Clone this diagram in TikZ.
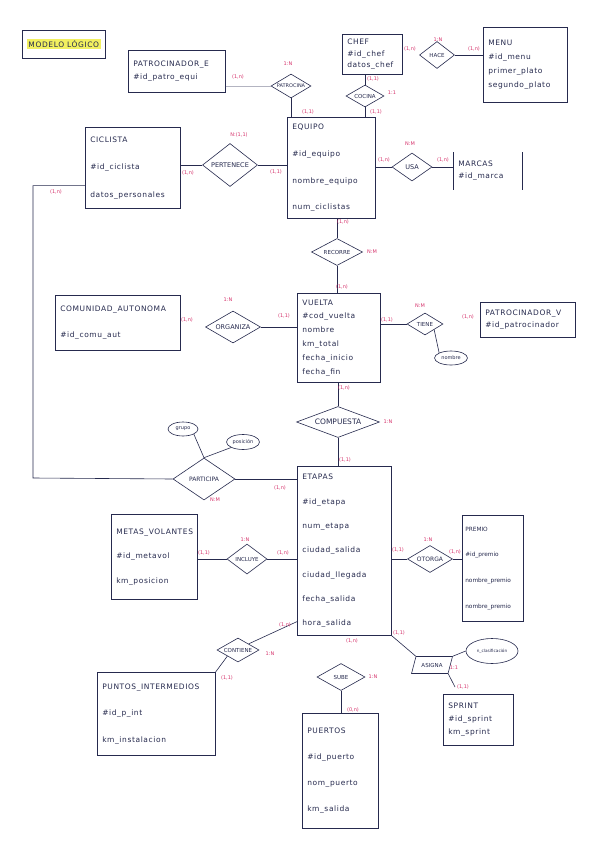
\documentclass[tikz,border=0pt]{standalone}
\usepackage{fontspec}
\setmainfont{DejaVu Sans}
\newfontfamily\mano[LetterSpace=8]{DejaVu Sans}
\usetikzlibrary{arrows,shapes.geometric}
\definecolor{tinta}{RGB}{38,42,78}
\definecolor{rojo}{RGB}{214,51,108}
\definecolor{resalte}{RGB}{242,240,96}
\tikzset{
	entidad/.style={draw=tinta, line width=0.6pt, rectangle, anchor=north west, align=left, inner xsep=5pt, inner ysep=0pt, text=tinta, font=\mano\fontsize{7.5}{9}\selectfont},
	relacion/.style={draw=tinta, line width=0.6pt, diamond, aspect=2, inner sep=0pt, text=tinta, font=\fontsize{5.5}{6}\selectfont},
	atributo/.style={draw=tinta, line width=0.6pt, ellipse, inner sep=0pt, text=tinta, font=\fontsize{5}{6}\selectfont},
	card/.style={text=rojo, inner sep=0pt, font=\fontsize{5}{6}\selectfont},
	enlace/.style={draw=tinta, line width=0.6pt},
	tenue/.style={draw=tinta!35, line width=0.5pt}
}
\begin{document}
\begin{tikzpicture}[x=1pt,y=-1pt]
		\fill[white] (0,0) rectangle (600,848);
		\useasboundingbox (0,0) rectangle (600,848);
		\setlength{\fboxsep}{1.5pt}
		\node[draw=tinta, line width=0.6pt, anchor=north west, minimum width=83pt, minimum height=28pt, inner sep=0pt, text=tinta, font=\mano\fontsize{7.5}{9}\selectfont] (titulo) at (22,30) {\colorbox{resalte}{MODELO LÓGICO}};
		\node[entidad, text width=87pt, minimum height=42pt] (patroE) at (128,50) {PATROCINADOR\_E\\[4pt] \#id\_patro\_equi};
		\node[entidad, text width=50pt, minimum height=40pt] (chef) at (342,34) {CHEF\\[2.5pt] \#id\_chef\\[2.5pt] datos\_chef};
		\node[entidad, text width=74pt, minimum height=75pt] (menu) at (483,27) {MENU\\[5pt] \#id\_menu\\[5pt] primer\_plato\\[5pt] segundo\_plato};
		\node[entidad, text width=85pt, minimum height=81pt] (ciclista) at (85,127) {CICLISTA\\[18.5pt] \#id\_ciclista\\[18.5pt] datos\_personales};
		\node[entidad, text width=78pt, minimum height=101pt] (equipo) at (287,117) {EQUIPO\\[17.7pt] \#id\_equipo\\[17.7pt] nombre\_equipo\\[17.7pt] num\_ciclistas};
		\node[entidad, draw=none, text width=59pt, minimum height=37pt] (marcas) at (453,152) {MARCAS\\[3pt] \#id\_marca};
		\node[entidad, text width=115pt, minimum height=55pt] (comunidad) at (55,295) {COMUNIDAD\_AUTONOMA\\[17pt] \#id\_comu\_aut};
		\node[entidad, text width=73pt, minimum height=89pt] (vuelta) at (297,293) {VUELTA\\[4.8pt] \#cod\_vuelta\\[4.8pt] nombre\\[4.8pt] km\_total\\[4.8pt] fecha\_inicio\\[4.8pt] fecha\_fin};
		\node[entidad, text width=85pt, minimum height=35pt] (patroV) at (480,302) {PATROCINADOR\_V\\[3pt] \#id\_patrocinador};
		\node[entidad, text width=84pt, minimum height=169pt] (etapas) at (297,466) {ETAPAS\\[15.3pt] \#id\_etapa\\[15.3pt] num\_etapa\\[15.3pt] ciudad\_salida\\[15.3pt] ciudad\_llegada\\[15.3pt] fecha\_salida\\[15.3pt] hora\_salida};
		\node[entidad, text width=76pt, minimum height=85pt] (metas) at (111,514) {METAS\_VOLANTES\\[15.5pt] \#id\_metavol\\[15.5pt] km\_posicion};
		\node[entidad, text width=55pt, minimum height=106pt, inner xsep=3pt, font=\fontsize{5.8}{7}\selectfont] (premio) at (462,515) {PREMIO\\[18.7pt] \#id\_premio\\[18.7pt] nombre\_premio\\[18.7pt] nombre\_premio};
		\node[entidad, text width=60pt, minimum height=51pt] (sprint) at (443,694) {SPRINT\\[4pt] \#id\_sprint\\[4pt] km\_sprint};
		\node[entidad, text width=108pt, minimum height=83pt] (puntos) at (97,672) {PUNTOS\_INTERMEDIOS\\[17.5pt] \#id\_p\_int\\[17.5pt] km\_instalacion};
		\node[entidad, text width=66pt, minimum height=115pt] (puertos) at (302,713) {PUERTOS\\[17pt] \#id\_puerto\\[17pt] nom\_puerto\\[17pt] km\_salida};
		\draw[enlace] (marcas.north west) -- (marcas.south west) (marcas.north east) -- (marcas.south east);
		\node[relacion, minimum width=40pt, minimum height=24pt, font=\fontsize{5}{6}\selectfont] (patrocina) at (291,86) {PATROCINA};
		\node[relacion, minimum width=38pt, minimum height=22pt] (cocina) at (365,96) {COCINA};
		\node[relacion, minimum width=35pt, minimum height=27pt] (hace) at (437,55) {HACE};
		\node[relacion, minimum width=55pt, minimum height=43pt, font=\fontsize{6.5}{7}\selectfont] (pertenece) at (230,165) {PERTENECE};
		\node[relacion, minimum width=40pt, minimum height=28pt, font=\fontsize{6.5}{7}\selectfont] (usa) at (412,167) {USA};
		\node[relacion, minimum width=51pt, minimum height=27pt] (recorre) at (337,252) {RECORRE};
		\node[relacion, minimum width=55pt, minimum height=32pt, font=\fontsize{6.5}{7}\selectfont] (organiza) at (233,327) {ORGANIZA};
		\node[relacion, minimum width=36pt, minimum height=22pt] (tiene) at (425,324) {TIENE};
		\node[relacion, minimum width=83pt, minimum height=31pt, font=\fontsize{7.5}{8}\selectfont] (compuesta) at (338,422) {COMPUESTA};
		\node[relacion, minimum width=62pt, minimum height=42pt, font=\fontsize{6}{7}\selectfont] (participa) at (204,479) {PARTICIPA};
		\node[relacion, minimum width=40pt, minimum height=30pt] (incluye) at (247,559) {INCLUYE};
		\node[relacion, minimum width=45pt, minimum height=27pt, font=\fontsize{6}{7}\selectfont] (otorga) at (430,559) {OTORGA};
		\node[relacion, minimum width=42pt, minimum height=24pt] (contiene) at (238,650) {CONTIENE};
		\node[relacion, minimum width=48pt, minimum height=27pt] (sube) at (341,677) {SUBE};
		\node[relacion, trapezium, trapezium left angle=55, trapezium right angle=125, trapezium stretches=true, minimum width=41pt, minimum height=17pt] (asigna) at (432,665) {ASIGNA};
		\node[atributo, minimum width=30pt, minimum height=14pt] (grupo) at (183,429) {grupo};
		\node[atributo, minimum width=33pt, minimum height=15pt] (posicion) at (243,442) {posición};
		\node[atributo, minimum width=33pt, minimum height=14pt] (nombrev) at (451,358) {nombre};
		\node[atributo, minimum width=52pt, minimum height=25pt, font=\fontsize{4.2}{5}\selectfont] (clasif) at (492,651) {n\_clasificación};
		\coordinate (esquina) at (33,478);
		\coordinate (finsprint) at (455,687);
		\draw[tenue] (patroE.east |- patrocina.west) -- (patrocina.west);
		\draw[enlace] (patrocina.south) -- (patrocina.south |- equipo.north);
		\draw[enlace] (cocina.north |- chef.south) -- (cocina.north);
		\draw[enlace] (cocina.south) -- (cocina.south |- equipo.north);
		\draw[enlace] (hace.east) -- (hace.east -| menu.west);
		\draw[enlace] (ciclista.east |- pertenece.west) -- (pertenece.west);
		\draw[enlace] (pertenece.east) -- (pertenece.east -| equipo.west);
		\draw[enlace] ([yshift=23pt]ciclista.south west) -| (esquina) -- (participa.west);
		\draw[enlace] (equipo.east |- usa.west) -- (usa.west);
		\draw[enlace] (usa.east) -- (usa.east -| marcas.west);
		\draw[enlace] (recorre.north |- equipo.south) -- (recorre.north);
		\draw[enlace] (recorre.south) -- (recorre.south |- vuelta.north);
		\draw[enlace] (organiza.east) -- (organiza.east -| vuelta.west);
		\draw[enlace] (vuelta.east |- tiene.west) -- (tiene.west);
		\draw[enlace] (tiene.south east) -- (nombrev.north west);
		\draw[enlace] (compuesta.north |- vuelta.south) -- (compuesta.north);
		\draw[enlace] (compuesta.south) -- (compuesta.south |- etapas.north);
		\draw[enlace] (participa.east) -- (participa.east -| etapas.west);
		\draw[enlace] (grupo.south east) -- (participa.north);
		\draw[enlace] (posicion.south west) -- (participa.north);
		\draw[enlace] (metas.east |- incluye.west) -- (incluye.west);
		\draw[enlace] (incluye.east) -- (incluye.east -| etapas.west);
		\draw[enlace] (etapas.east |- otorga.west) -- (otorga.west);
		\draw[enlace] (otorga.east) -- (otorga.east -| premio.west);
		\draw[enlace] (etapas.south east) -- (asigna.top left corner);
		\draw[enlace] (asigna.top right corner) -- (clasif.west);
		\draw[enlace] (asigna.bottom right corner) -- (finsprint);
		\draw[enlace] ([yshift=14pt]etapas.south west) -- (contiene.north east);
		\draw[enlace] (contiene.south west) -- (puntos.north east);
		\draw[enlace] (sube.south) -- (sube.south |- puertos.north);
		\node[card] (c1) at (238,77) {(1,n)};
		\node[card] (c2) at (288,64) {1:N};
		\node[card] (c3) at (308,112) {(1,1)};
		\node[card] (c4) at (376,112) {(1,1)};
		\node[card] (c5) at (373,79) {(1,1)};
		\node[card] (c6) at (392,93) {1:1};
		\node[card] (c7) at (410,49) {(1,n)};
		\node[card] (c8) at (438,40) {1:N};
		\node[card] (c9) at (474,49) {(1,n)};
		\node[card] (c10) at (239,135) {N:(1,1)};
		\node[card] (c11) at (188,173) {(1,n)};
		\node[card] (c12) at (276,172) {(1,1)};
		\node[card] (c13) at (56,192) {(1,n)};
		\node[card] (c14) at (410,144) {N:M};
		\node[card] (c15) at (384,160) {(1,n)};
		\node[card] (c16) at (443,160) {(1,n)};
		\node[card] (c17) at (343,222) {(1,n)};
		\node[card] (c18) at (372,252) {N:M};
		\node[card] (c19) at (342,287) {(1,n)};
		\node[card] (c20) at (187,320) {(1,n)};
		\node[card] (c21) at (228,300) {1:N};
		\node[card] (c22) at (284,316) {(1,1)};
		\node[card] (c23) at (387,320) {(1,1)};
		\node[card] (c24) at (420,306) {N:M};
		\node[card] (c25) at (468,317) {(1,n)};
		\node[card] (c26) at (344,388) {(1,n)};
		\node[card] (c27) at (388,422) {1:N};
		\node[card] (c28) at (345,460) {(1,1)};
		\node[card] (c29) at (280,488) {(1,n)};
		\node[card] (c30) at (215,500) {N:M};
		\node[card] (c31) at (204,553) {(1,1)};
		\node[card] (c32) at (245,540) {1:N};
		\node[card] (c33) at (283,553) {(1,n)};
		\node[card] (c34) at (398,550) {(1,1)};
		\node[card] (c35) at (428,540) {1:N};
		\node[card] (c36) at (455,552) {(1,n)};
		\node[card] (c37) at (399,633) {(1,1)};
		\node[card] (c38) at (352,641) {(1,n)};
		\node[card] (c39) at (454,668) {1:1};
		\node[card] (c40) at (463,687) {(1,1)};
		\node[card] (c41) at (285,625) {(1,n)};
		\node[card] (c42) at (270,654) {1:N};
		\node[card] (c43) at (227,678) {(1,1)};
		\node[card] (c44) at (373,677) {1:N};
		\node[card] (c45) at (353,710) {(0,n)};
	\end{tikzpicture}
\end{document}
